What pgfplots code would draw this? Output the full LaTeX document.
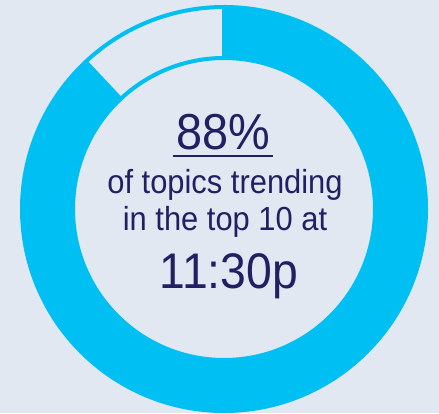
\documentclass[border=0pt]{standalone}
\usepackage{pgfplots}
\pgfplotsset{compat=1.18}
\usepackage{fontspec}
\setmainfont{Liberation Sans}
\definecolor{ring}{RGB}{0,192,243}
\definecolor{bg}{RGB}{225,232,242}
\definecolor{ink}{RGB}{35,31,99}
% share of topics trending (percent)
\def\share{88}
\pgfmathsetmacro\stopangle{90-3.6*\share}
\pgfmathsetmacro\gapend{\stopangle+360}
\begin{document}
\begin{tikzpicture}
\begin{axis}[x=1bp, y=1bp, xmin=0, xmax=439, ymin=0, ymax=413,
  hide axis, clip=false]
\fill[bg] (axis cs:0,0) rectangle (axis cs:439,413);
\begin{scope}[shift={(axis cs:224,204)}]
  % trending share
  \fill[ring] (90:204bp) arc[start angle=90, end angle=\stopangle, radius=204bp]
    -- (\stopangle:149bp) arc[start angle=\stopangle, end angle=90, radius=149bp] -- cycle;
  % remainder, outlined only
  \draw[ring, line width=4bp] (90:202bp) arc[start angle=90, end angle=\gapend, radius=202bp]
    -- (\gapend:151bp) arc[start angle=\gapend, end angle=90, radius=151bp] -- cycle;
\end{scope}
\node[ink, anchor=base, yscale=1.08, font=\fontsize{47}{47}\selectfont] at (axis cs:223,263) {88\%};
\draw[ink, line width=2bp] (axis cs:173,257) -- (axis cs:273,257);
\node[ink, anchor=base, yscale=1.08, font=\fontsize{31}{31}\selectfont] at (axis cs:225,220) {of topics trending};
\node[ink, anchor=base, yscale=1.08, font=\fontsize{31}{31}\selectfont] at (axis cs:225,183) {in the top 10 at};
\node[ink, anchor=base, yscale=1.08, font=\fontsize{46.5}{46.5}\selectfont] at (axis cs:229,125) {11:30p};
\end{axis}
\end{tikzpicture}
\end{document}
